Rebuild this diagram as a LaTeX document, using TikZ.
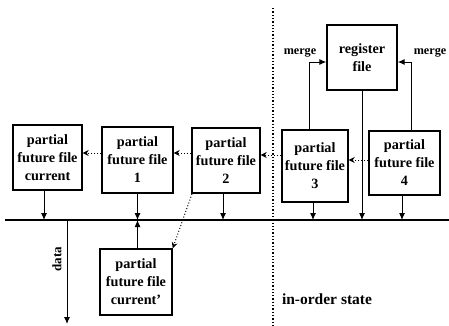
\documentclass[tikz,border=0pt]{standalone}
\usepackage{fontspec}
\setmainfont{Liberation Serif}
\usetikzlibrary{arrows.meta}
\begin{document}
\begin{tikzpicture}[x=1pt,y=-1pt,
  filebox/.style={draw,line width=1.4pt,align=center,inner sep=0pt,
    font=\fontsize{14.2}{18}\selectfont\bfseries},
  bus/.style={line width=1.4pt},
  down/.style={line width=1pt,-{Latex[length=7pt,width=6pt]}},
  dotarrow/.style={line width=1pt,dotted,-{Stealth[length=6pt,width=6pt,open]}},
  lbl/.style={font=\fontsize{12.2}{14}\selectfont\bfseries,inner sep=0pt}]
\useasboundingbox (0,0) rectangle (449,325);
% boxes
\node[filebox,minimum width=69,minimum height=65] (pc) at (47.5,157.5) {partial\\future file\\current};
\node[filebox,minimum width=71,minimum height=66] (p1) at (137.5,160) {partial\\future file\\1};
\node[filebox,minimum width=68,minimum height=65] (p2) at (226,160.5) {partial\\future file\\2};
\node[filebox,minimum width=66,minimum height=72] (p3) at (315,166) {partial\\future file\\3};
\node[filebox,minimum width=71,minimum height=64] (p4) at (404.5,163) {partial\\future file\\4};
\node[filebox,minimum width=70,minimum height=65] (reg) at (362,57.5) {register\\file};
\node[filebox,minimum width=72,minimum height=66] (pcp) at (136,282) {partial\\future file\\current'};
% bus
\coordinate (busL) at (5,220);
\coordinate (busR) at (449,220);
\draw[bus] (busL) -- (busR);
% separator
\coordinate (sepT) at (273,8);
\coordinate (sepB) at (273,325);
\draw[line width=1.3pt,dotted] (sepT) -- (sepB);
% down arrows to bus
\draw[down] (pc.south -| 44,0) -- (44,220);
\draw[down] (p1.south) -- (p1.south |- busL);
\draw[down] ([xshift=-3pt]p2.south) -- ([xshift=-3pt]p2.south |- busL);
\draw[down] ([xshift=-2pt]p3.south) -- ([xshift=-2pt]p3.south |- busL);
\draw[down] ([xshift=-2.5pt]p4.south) -- ([xshift=-2.5pt]p4.south |- busL);
\draw[down] (reg.south) -- (reg.south |- busL);
\draw[down] (pcp.north -| p1.south) -- (p1.south |- busL);
% data
\coordinate (dataT) at (67,220);
\coordinate (dataB) at (67,324);
\draw[down] (dataT) -- (dataB);
\node[lbl,rotate=90,font=\fontsize{13}{15}\selectfont\bfseries] (datal) at (57,259) {data};
% dotted transfers
\draw[dotarrow] (p1.west |- 0,153) -- (pc.east |- 0,153);
\draw[dotarrow] (p2.west |- 0,153) -- (p1.east |- 0,153);
\draw[dotarrow] (p3.west |- 0,155) -- (p2.east |- 0,155);
\draw[dotarrow] (p4.west |- 0,160) -- (p3.east |- 0,160);
\draw[dotarrow] (192,194) -- (pcp.north east);
% merges
\draw[down] ([xshift=-6pt]p3.north) |- ([yshift=-4.5pt]reg.west);
\draw[down] ([xshift=6.5pt]p4.north) |- ([yshift=-4.5pt]reg.east);
\node[lbl] (m1) at (300,53) {merge};
\node[lbl] (m2) at (430,53) {merge};
\node[lbl,font=\fontsize{15.5}{18}\selectfont\bfseries] (ios) at (327,299) {in-order state};
\end{tikzpicture}
\end{document}
